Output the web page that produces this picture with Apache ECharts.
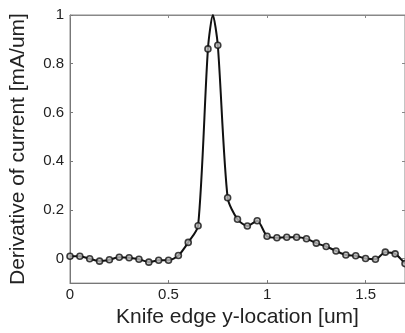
<!DOCTYPE html>
<html>
<head>
<meta charset="utf-8">
<script src="https://cdn.jsdelivr.net/npm/echarts@6/dist/echarts.min.js"></script>
<style>html,body{margin:0;padding:0;background:#fff;}#c{width:405px;height:333px;}</style>
</head>
<body>
<div id="c"></div>
<script>
// sampled positions (um) and derivative values (mA/um)
const xPos = [0, 0.05, 0.1, 0.15, 0.2, 0.25, 0.3, 0.35, 0.4, 0.45, 0.5, 0.55, 0.6, 0.65, 0.7, 0.75, 0.8, 0.85, 0.9, 0.95, 1.0, 1.05, 1.1, 1.15, 1.2, 1.25, 1.3, 1.35, 1.4, 1.45, 1.5, 1.55, 1.6, 1.65, 1.7];
const yVal = [0.01, 0.01, 0.0, -0.01, -0.004, 0.006, 0.004, -0.002, -0.014, -0.006, -0.006, 0.013, 0.067, 0.135, 0.861, 0.876, 0.25, 0.162, 0.134, 0.156, 0.092, 0.086, 0.088, 0.088, 0.082, 0.064, 0.05, 0.032, 0.015, 0.012, 0.001, -0.002, 0.027, 0.02, -0.02];
// peak of the fitted curve between samples
const peakX = [0.725];
const peakY = [1.0];
const xTicks = [0, 0.5, 1, 1.5];
const yTicks = [0, 0.2, 0.4, 0.6, 0.8, 1];

const pts = xPos.map((x, i) => [x, yVal[i]]);
const linePts = pts.slice();
linePts.splice(15, 0, [peakX[0], peakY[0]]);

const font = 'Liberation Sans, Arial, sans-serif';
const chart = echarts.init(document.getElementById('c'), null, {renderer: 'canvas'});
chart.setOption({
  animation: false,
  backgroundColor: '#fff',
  grid: {left: 70, top: 15, right: -3, bottom: 46, show: true, borderColor: '#888', borderWidth: 1, containLabel: false},
  xAxis: [{
    type: 'value', min: 0, max: 1.7,
    name: 'Knife edge y-location [um]', nameLocation: 'middle', nameGap: 22,
    nameTextStyle: {fontFamily: font, fontSize: 21, color: '#222'},
    axisLine: {show: true, onZero: false, lineStyle: {color: '#777', width: 1}},
    axisTick: {show: true, inside: true, length: 3, customValues: xTicks, lineStyle: {color: '#777'}},
    axisLabel: {customValues: xTicks, formatter: v => String(v), fontFamily: font, fontSize: 15, color: '#222', margin: 4},
    splitLine: {show: false}
  }, {
    type: 'value', min: 0, max: 1.7, position: 'top',
    axisLine: {show: true, onZero: false, lineStyle: {color: '#888'}},
    axisTick: {show: true, inside: true, length: 3, customValues: xTicks, lineStyle: {color: '#888'}},
    axisLabel: {show: false}, splitLine: {show: false}
  }],
  yAxis: [{
    type: 'value', min: -0.1, max: 1,
    name: 'Derivative of current [mA/um]', nameLocation: 'middle', nameGap: 41,
    nameTextStyle: {fontFamily: font, fontSize: 21, color: '#222'},
    axisLine: {show: true, onZero: false, lineStyle: {color: '#777', width: 1}},
    axisTick: {show: true, inside: true, length: 3, customValues: yTicks, lineStyle: {color: '#777'}},
    axisLabel: {customValues: yTicks, formatter: v => String(v), fontFamily: font, fontSize: 15, color: '#222', margin: 6},
    splitLine: {show: false}
  }, {
    type: 'value', min: -0.1, max: 1, position: 'right',
    axisLine: {show: true, onZero: false, lineStyle: {color: '#888'}},
    axisTick: {show: true, inside: true, length: 3, customValues: yTicks, lineStyle: {color: '#888'}},
    axisLabel: {show: false}, splitLine: {show: false}
  }],
  series: [{
    type: 'line', data: linePts, smooth: 0.25, showSymbol: false, symbol: 'none',
    lineStyle: {color: '#111', width: 2}, z: 2
  }, {
    type: 'scatter', data: pts, symbol: 'circle', symbolSize: 6,
    itemStyle: {color: '#bbb', borderColor: '#111', borderWidth: 1.6}, z: 3
  }]
});
</script>
</body>
</html>
